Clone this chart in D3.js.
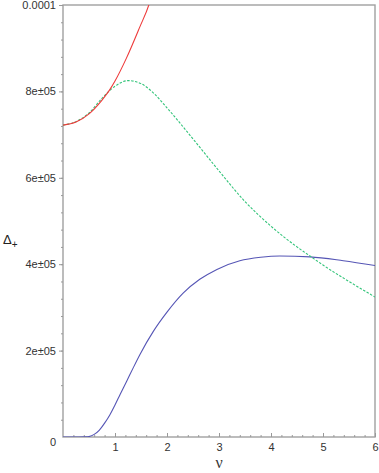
<!DOCTYPE html>
<meta charset="utf-8">
<script src="https://d3js.org/d3.v7.min.js"></script>
<style>
  body { margin: 0; background: #fff; }
  .tick text { font-family: "Liberation Sans", Arial, sans-serif; font-size: 11px; fill: #333; }
</style>
<div id="chart"></div>
<script>
// data (nu, value)
var nuRed   = [0, 0.25, 0.5, 0.75, 0.9, 1.0, 1.22, 1.48, 1.65, 1.7];
var valRed  = [7.22e-5, 7.29e-5, 7.48e-5, 7.80e-5, 8.04e-5, 8.24e-5, 8.77e-5, 9.50e-5, 1.0e-4, 1.02e-4];

var nuGreen  = [0, 0.25, 0.5, 0.75, 1.0, 1.25, 1.5, 1.75, 2.0, 2.5, 3.0, 3.5, 4.0, 4.5, 4.75, 5.0, 5.5, 6.0];
var valGreen = [7.22e-5, 7.30e-5, 7.50e-5, 7.84e-5, 8.12e-5, 8.25e-5, 8.18e-5, 7.95e-5, 7.62e-5, 6.90e-5, 6.16e-5, 5.45e-5, 4.88e-5, 4.40e-5, 4.19e-5, 3.98e-5, 3.60e-5, 3.24e-5];

var nuBlue  = [0, 0.3, 0.45, 0.5, 0.6, 0.7, 0.8, 0.9, 1.0, 1.1, 1.22, 1.35, 1.48, 1.74, 2.0, 2.31, 2.63, 2.96, 3.4, 3.8, 4.17, 4.75, 5.39, 6.0];
var valBlue = [0, 0, 0.002e-5, 0.01e-5, 0.06e-5, 0.16e-5, 0.32e-5, 0.51e-5, 0.74e-5, 0.99e-5, 1.28e-5, 1.60e-5, 1.91e-5, 2.45e-5, 2.89e-5, 3.33e-5, 3.65e-5, 3.88e-5, 4.08e-5, 4.16e-5, 4.19e-5, 4.17e-5, 4.08e-5, 3.97e-5];

var xTicks = [1, 2, 3, 4, 5, 6];
var yTicks = [2e-5, 4e-5, 6e-5, 8e-5, 1e-4];
var yLabels = ["2e±05", "4e±05", "6e±05", "8e±05", "0.0001"];

var W = 379, H = 473;
var mLeft = 63, mRight = 375, mTop = 5, mBottom = 437;

var svg = d3.select("#chart").append("svg")
  .attr("width", W).attr("height", H);

var x = d3.scaleLinear().domain([0, 6]).range([mLeft, mRight]);
var y = d3.scaleLinear().domain([0, 1e-4]).range([mBottom, mTop]);

svg.append("clipPath").attr("id", "clip")
  .append("rect").attr("x", mLeft).attr("y", mTop)
  .attr("width", mRight - mLeft).attr("height", mBottom - mTop);

// box
svg.append("rect")
  .attr("x", mLeft).attr("y", mTop)
  .attr("width", mRight - mLeft).attr("height", mBottom - mTop)
  .attr("fill", "none").attr("stroke", "#a0a0a0").attr("stroke-width", 1.4);

// x ticks: minor then major
var gx = svg.append("g").attr("transform", "translate(0," + mBottom + ")")
  .call(d3.axisBottom(x).tickValues(d3.range(0.2, 6, 0.2)).tickSize(-2).tickFormat(""));
gx.select(".domain").remove();
gx.selectAll("line").attr("stroke", "#999");

var gx2 = svg.append("g").attr("transform", "translate(0," + mBottom + ")")
  .call(d3.axisBottom(x).tickValues(xTicks).tickSize(-4).tickPadding(6).tickFormat(d3.format("d")));
gx2.select(".domain").remove();
gx2.selectAll("line").attr("stroke", "#999");

// y ticks: minor then major
var gy = svg.append("g").attr("transform", "translate(" + mLeft + ",0)")
  .call(d3.axisLeft(y).tickValues(d3.range(0.4e-5, 1e-4, 0.4e-5)).tickSize(2).tickFormat(""));
gy.select(".domain").remove();
gy.selectAll("line").attr("stroke", "#999");

var gy2 = svg.append("g").attr("transform", "translate(" + mLeft + ",0)")
  .call(d3.axisLeft(y).tickValues(yTicks).tickSize(4).tickPadding(3)
    .tickFormat(function(d, i) { return yLabels[i]; }));
gy2.select(".domain").remove();
gy2.selectAll("line").attr("stroke", "#999");

// corner zero
svg.append("text")
  .attr("x", mLeft - 7).attr("y", mBottom + 9)
  .attr("text-anchor", "end")
  .style("font-family", "Liberation Sans, Arial, sans-serif")
  .style("font-size", "11px").style("fill", "#333")
  .text("0");

// axis labels
svg.append("text")
  .attr("x", x(3)).attr("y", 468)
  .attr("text-anchor", "middle")
  .style("font-family", "Liberation Serif, serif")
  .style("font-size", "16px").style("fill", "#333")
  .text("ν");

var ylab = svg.append("text")
  .attr("x", 3).attr("y", 244)
  .style("font-family", "Liberation Sans, Arial, sans-serif")
  .style("font-size", "13px").style("fill", "#222");
ylab.append("tspan").text("Δ");
ylab.append("tspan").attr("dy", 4).style("font-size", "10px").text("+");

// curves
var line = d3.line().curve(d3.curveMonotoneX)
  .x(function(d) { return x(d[0]); })
  .y(function(d) { return y(d[1]); });

var plot = svg.append("g").attr("clip-path", "url(#clip)");

plot.append("path")
  .datum(d3.zip(nuBlue, valBlue))
  .attr("d", line).attr("fill", "none")
  .attr("stroke", "#5555b5").attr("stroke-width", 1.1);

plot.append("path")
  .datum(d3.zip(nuGreen, valGreen))
  .attr("d", line).attr("fill", "none")
  .attr("stroke", "#33c47a").attr("stroke-width", 1.1)
  .attr("stroke-dasharray", "2.5,1.5");

plot.append("path")
  .datum(d3.zip(nuRed, valRed))
  .attr("d", line).attr("fill", "none")
  .attr("stroke", "#ee3b3b").attr("stroke-width", 1.1);
</script>
